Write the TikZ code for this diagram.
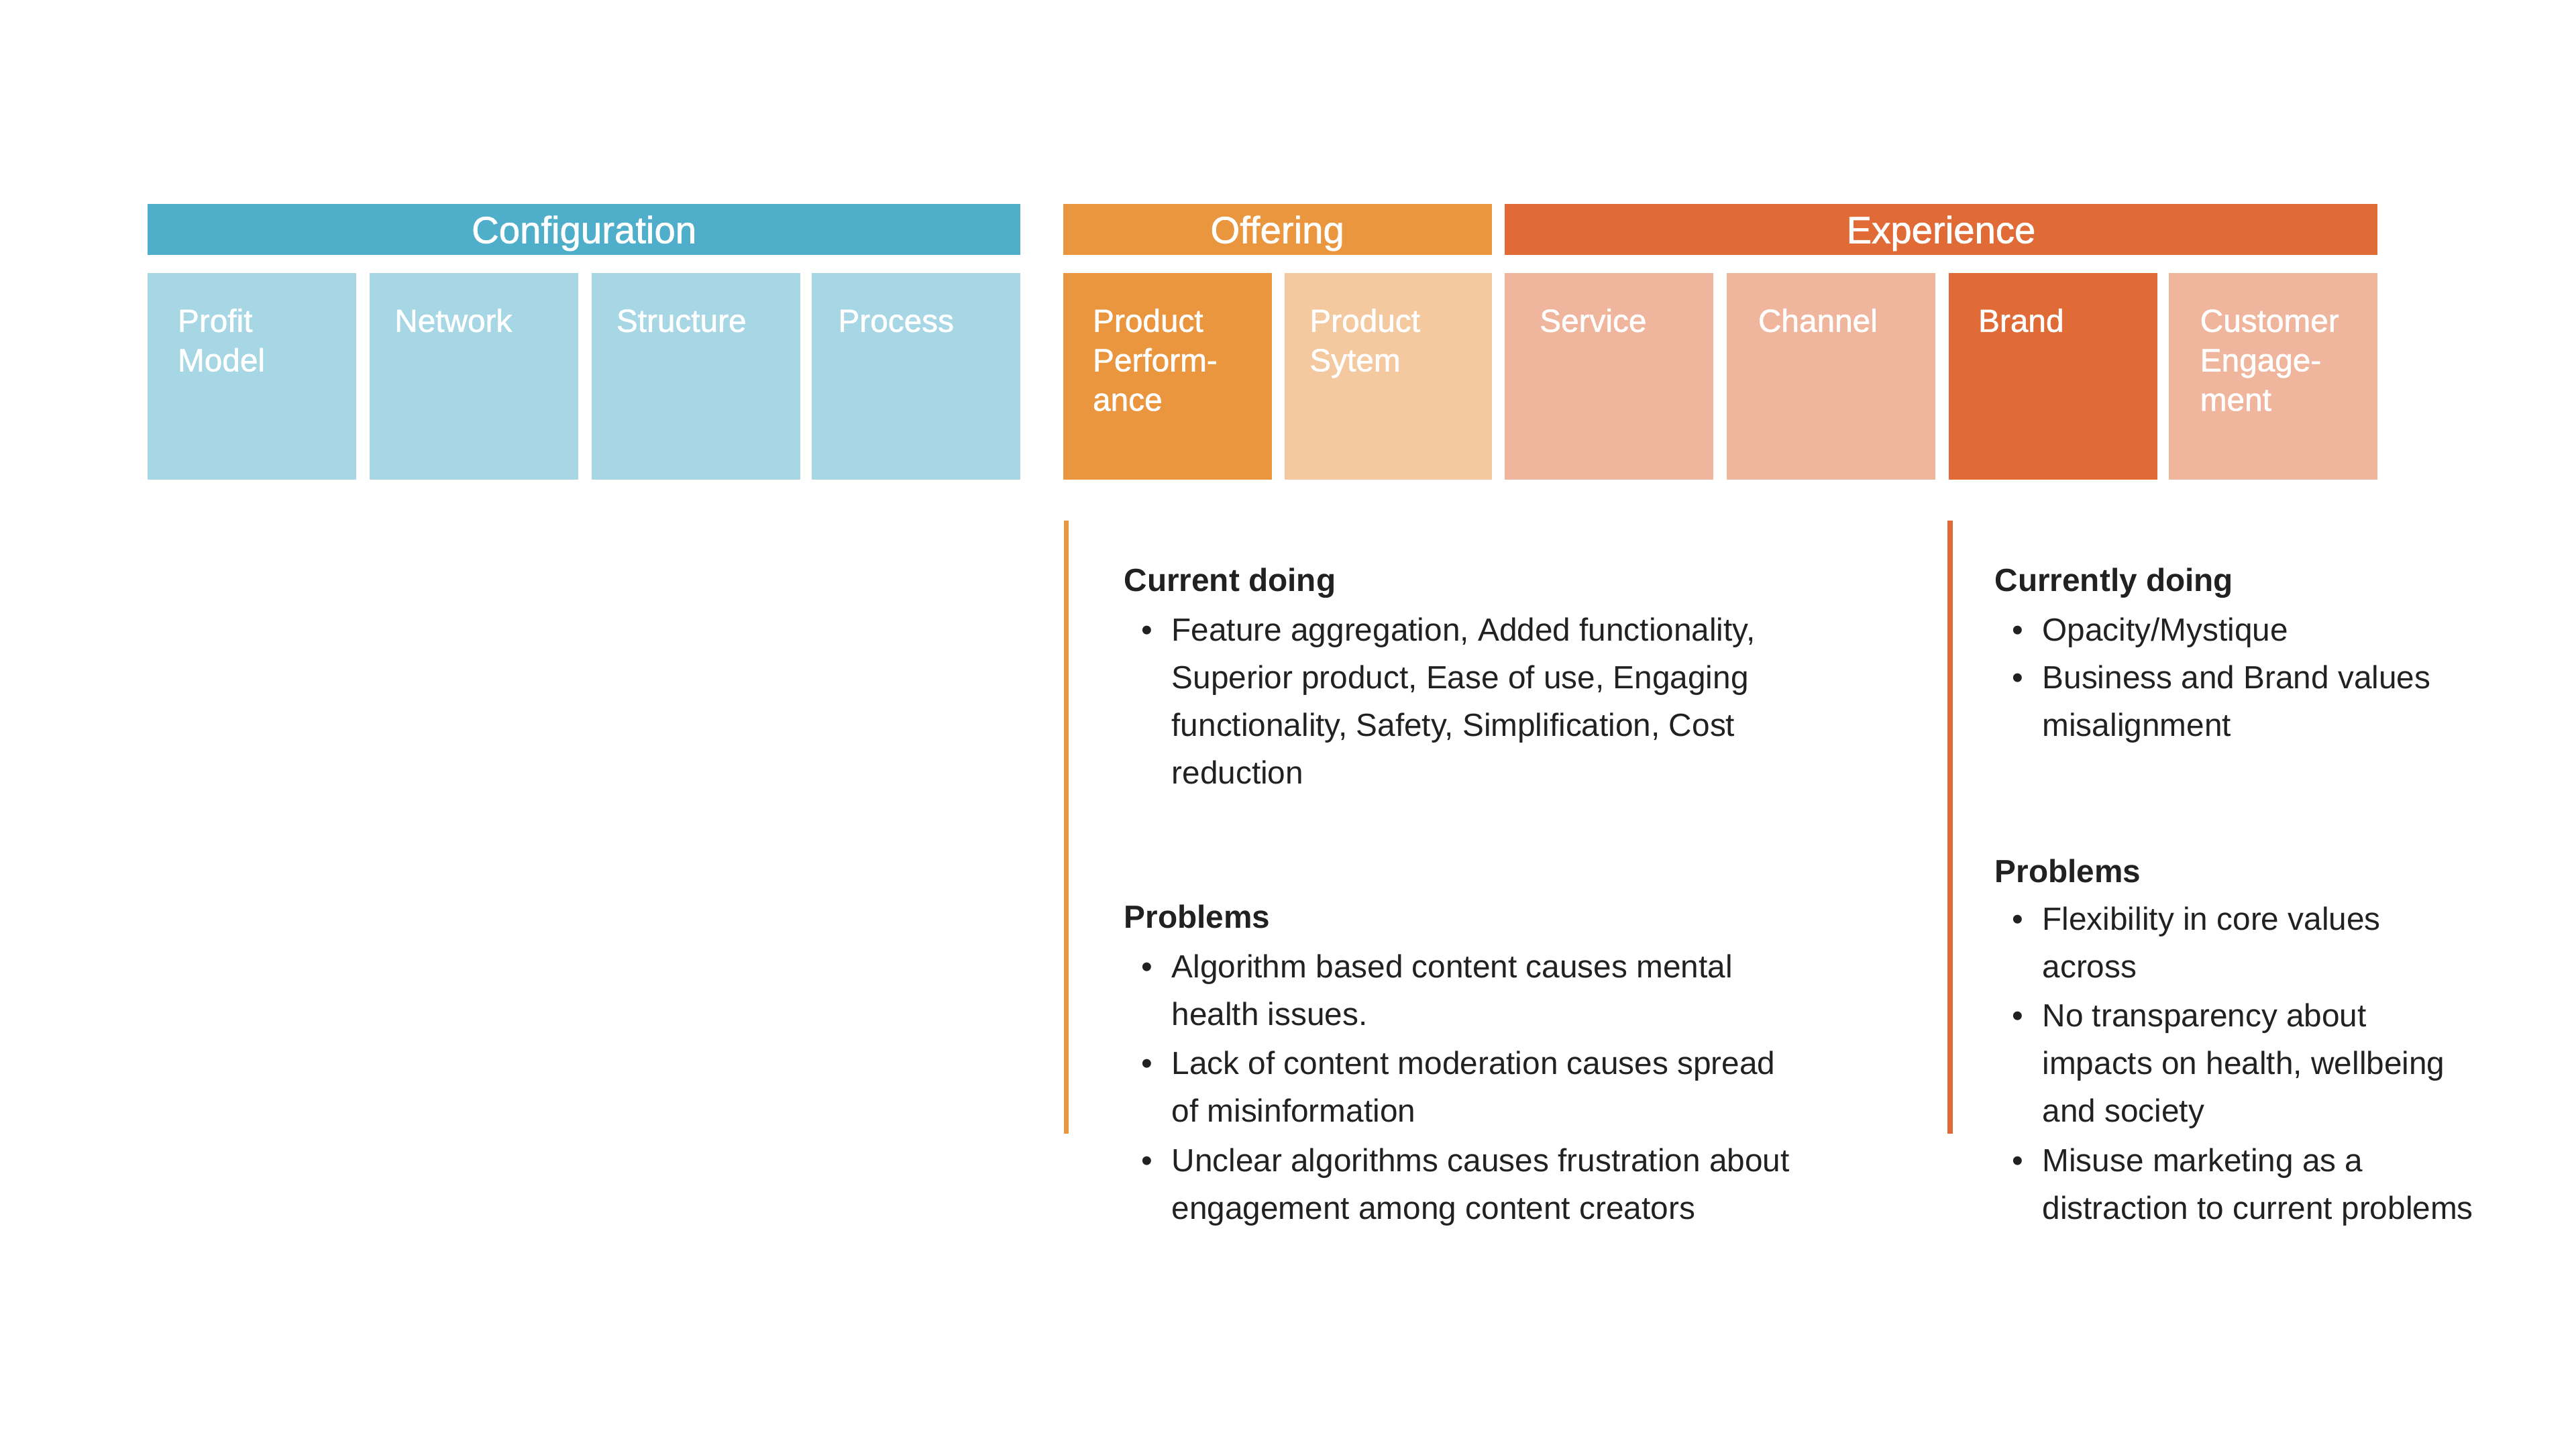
\documentclass[tikz,border=0pt]{standalone}
\usepackage{fontspec}
\setmainfont{Liberation Sans}
\newfontfamily\medfont[FakeBold=1.2]{Liberation Sans}
\definecolor{cfgH}{HTML}{4FAFCB}
\definecolor{cfgB}{HTML}{A7D7E4}
\definecolor{offH}{HTML}{EA963F}
\definecolor{offL}{HTML}{F4C9A0}
\definecolor{expH}{HTML}{E06B37}
\definecolor{expL}{HTML}{F0B59D}
\definecolor{txt}{HTML}{212121}
\tikzset{
  hdr/.style={inner sep=0pt,text=white,font=\medfont\fontsize{23}{27}\selectfont},
  blab/.style={inner sep=0pt,anchor=base west,text=white,font=\medfont\fontsize{19.5}{24}\selectfont},
  body/.style={inner sep=0pt,anchor=base west,text=txt,font=\fontsize{19.5}{29}\selectfont},
  head/.style={inner sep=0pt,anchor=base west,text=txt,font=\bfseries\fontsize{19.5}{29}\selectfont},
  bul/.style={inner sep=0pt,anchor=base,text=txt,font=\fontsize{19.5}{29}\selectfont},
}
\newcommand\bodyline[4]{\node[body] (#1) at (#2,#3) {#4};}
\newcommand\bulline[3]{\node[bul] (#1) at (#2,#3) {•};}
\begin{document}
\begin{tikzpicture}[x=1pt,y=-1pt]
\useasboundingbox[fill=white] (0,0) rectangle (1568,882);
% headers
\fill[cfgH] (90,124) rectangle (621,155);
\fill[offH] (647,124) rectangle (908,155);
\fill[expH] (916,124) rectangle (1447,155);
\node[hdr,anchor=base] (hcfg) at (355.5,148) {Configuration};
\node[hdr,anchor=base] (hoff) at (777.5,148) {Offering};
\node[hdr,anchor=base] (hexp) at (1181.5,148) {Experience};
% boxes
\fill[cfgB] (90,166) rectangle (217,292);
\fill[cfgB] (225,166) rectangle (352,292);
\fill[cfgB] (360,166) rectangle (487,292);
\fill[cfgB] (494,166) rectangle (621,292);
\fill[offH] (647,166) rectangle (774,292);
\fill[offL] (782,166) rectangle (908,292);
\fill[expL] (916,166) rectangle (1043,292);
\fill[expL] (1051,166) rectangle (1178,292);
\fill[expH] (1186,166) rectangle (1313,292);
\fill[expL] (1320,166) rectangle (1447,292);
\node[blab] (b1a) at (108,202) {Profit};
\node[blab] (b1b) at (108,226) {Model};
\node[blab] (b2) at (240,202) {Network};
\node[blab] (b3) at (375,202) {Structure};
\node[blab] (b4) at (510,202) {Process};
\node[blab] (b5a) at (665,202) {Product};
\node[blab] (b5b) at (665,226) {Perform-};
\node[blab] (b5c) at (665,250) {ance};
\node[blab] (b6a) at (797,202) {Product};
\node[blab] (b6b) at (797,226) {Sytem};
\node[blab] (b7) at (937,202) {Service};
\node[blab] (b8) at (1070,202) {Channel};
\node[blab] (b9) at (1204,202) {Brand};
\node[blab] (b10a) at (1339,202) {Customer};
\node[blab] (b10b) at (1339,226) {Engage-};
\node[blab] (b10c) at (1339,250) {ment};
% vertical rules
\draw[offH,line width=3pt] (649,317) -- (649,690);
\draw[expH,line width=3pt] (1187,317) -- (1187,690);
% left column
\node[head] (lh1) at (684,360) {Current doing};
\bulline{lb1}{698}{390}
\bodyline{l1}{713}{390}{Feature aggregation, Added functionality,}
\bodyline{l2}{713}{419}{Superior product, Ease of use, Engaging}
\bodyline{l3}{713}{448}{functionality, Safety, Simplification, Cost}
\bodyline{l4}{713}{477}{reduction}
\node[head] (lh2) at (684,565) {Problems};
\bulline{lb2}{698}{595}
\bodyline{l5}{713}{595}{Algorithm based content causes mental}
\bodyline{l6}{713}{624}{health issues.}
\bulline{lb3}{698}{654}
\bodyline{l7}{713}{654}{Lack of content moderation causes spread}
\bodyline{l8}{713}{683}{of misinformation}
\bulline{lb4}{698}{713}
\bodyline{l9}{713}{713}{Unclear algorithms causes frustration about}
\bodyline{l10}{713}{742}{engagement among content creators}
% right column
\node[head] (rh1) at (1214,360) {Currently doing};
\bulline{rb1}{1228}{390}
\bodyline{r1}{1243}{390}{Opacity/Mystique}
\bulline{rb2}{1228}{419}
\bodyline{r2}{1243}{419}{Business and Brand values}
\bodyline{r3}{1243}{448}{misalignment}
\node[head] (rh2) at (1214,537) {Problems};
\bulline{rb3}{1228}{566}
\bodyline{r4}{1243}{566}{Flexibility in core values}
\bodyline{r5}{1243}{595}{across}
\bulline{rb4}{1228}{625}
\bodyline{r6}{1243}{625}{No transparency about}
\bodyline{r7}{1243}{654}{impacts on health, wellbeing}
\bodyline{r8}{1243}{683}{and society}
\bulline{rb5}{1228}{713}
\bodyline{r9}{1243}{713}{Misuse marketing as a}
\bodyline{r10}{1243}{742}{distraction to current problems}
\end{tikzpicture}
\end{document}
